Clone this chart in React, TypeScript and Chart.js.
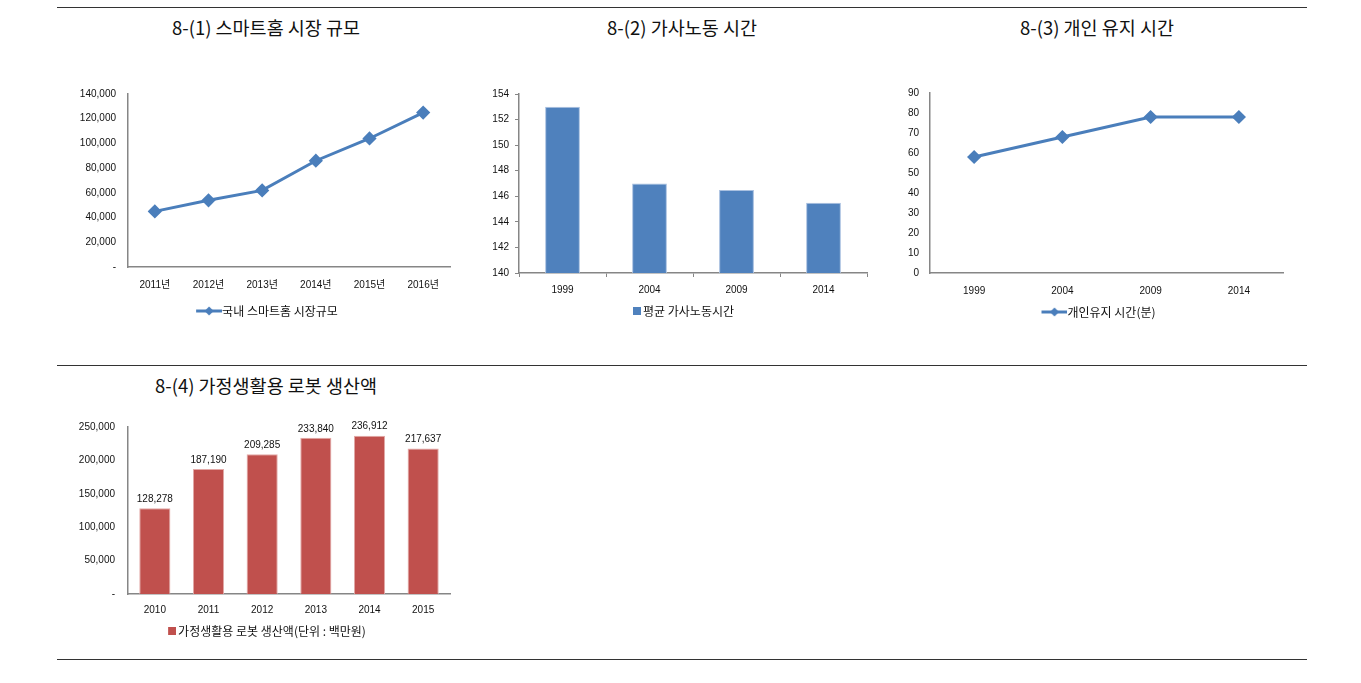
import React, { useEffect, useRef } from 'react';
import { Chart, registerables } from 'chart.js';
Chart.register(...registerables);

const smartHomeYears = ['2011년', '2012년', '2013년', '2014년', '2015년', '2016년'];
const smartHomeValues = [45000, 54000, 62000, 86000, 104000, 125000];
const houseworkYears = ['1999', '2004', '2009', '2014'];
const houseworkValues = [153, 147, 146.5, 145.5];
const personalYears = ['1999', '2004', '2009', '2014'];
const personalValues = [58, 68, 78, 78];
const robotYears = ['2010', '2011', '2012', '2013', '2014', '2015'];
const robotValues = [128278, 187190, 209285, 233840, 236912, 217637];

const BLUE_LINE = '#4A7EBB';
const BLUE_BAR = '#4F81BD';
const RED_BAR = '#C0504D';
const AXIS = '#868686';
const TICK_FONT = { family: '"Liberation Sans", "Noto Sans CJK KR", sans-serif', size: 10 };
const LEGEND_FONT = { family: '"Noto Sans CJK KR", "Liberation Sans", sans-serif', size: 12 };

// Legend icon: line with a diamond; drawn so the line runs up to the text.
function lineIcon(color: string) {
  const c = document.createElement('canvas');
  c.width = 32;
  c.height = 10;
  const ctx = c.getContext('2d')!;
  ctx.strokeStyle = color;
  ctx.lineWidth = 3;
  ctx.beginPath();
  ctx.moveTo(6, 5);
  ctx.lineTo(32, 5);
  ctx.stroke();
  ctx.fillStyle = color;
  ctx.beginPath();
  ctx.moveTo(19, 0.5);
  ctx.lineTo(23.5, 5);
  ctx.lineTo(19, 9.5);
  ctx.lineTo(14.5, 5);
  ctx.closePath();
  ctx.fill();
  return c;
}

// Legend icon: small square placed close to the text.
function boxIcon(color: string) {
  const c = document.createElement('canvas');
  c.width = 16;
  c.height = 8;
  const ctx = c.getContext('2d')!;
  ctx.fillStyle = color;
  ctx.fillRect(8, 0, 8, 8);
  return c;
}

const dashZero = (v: any) => (Number(v) === 0 ? '-' : Number(v).toLocaleString('en-US'));

const barLabelPlugin = {
  id: 'barLabels',
  afterDatasetsDraw(chart: any) {
    const ctx = chart.ctx;
    const meta = chart.getDatasetMeta(0);
    const data = chart.data.datasets[0].data;
    ctx.save();
    ctx.font = '10px "Liberation Sans", sans-serif';
    ctx.fillStyle = '#111';
    ctx.textAlign = 'center';
    ctx.textBaseline = 'bottom';
    meta.data.forEach((el: any, i: number) => {
      ctx.fillText(Number(data[i]).toLocaleString('en-US'), el.x, el.y - 4);
    });
    ctx.restore();
  },
};

// Moves the legend sideways so it is centred under the plot like the reference.
const legendShift = (dx: number) => ({
  id: 'legendShift',
  afterLayout(chart: any) {
    if (chart.legend) {
      chart.legend.left += dx;
      chart.legend.right += dx;
    }
  },
});

const fixH = (h: number) => (s: any) => { s.height = h; };
const fixW = (w: number) => (s: any) => { s.width = w; };

const lineLegend = (color: string) => ({
  position: 'bottom',
  labels: { font: LEGEND_FONT, color: '#111', usePointStyle: true, pointStyle: lineIcon(color), pointStyleWidth: 20, padding: 8 },
});
const boxLegend = (color: string) => ({
  position: 'bottom',
  labels: { font: LEGEND_FONT, color: '#111', usePointStyle: true, pointStyle: boxIcon(color), pointStyleWidth: 8, padding: 8 },
});

function makeConfig(kind: string): any {
  if (kind === 'c1') {
    return {
      type: 'line',
      data: {
        labels: smartHomeYears,
        datasets: [{
          label: '국내 스마트홈 시장규모',
          data: smartHomeValues,
          borderColor: BLUE_LINE,
          backgroundColor: BLUE_LINE,
          borderWidth: 3,
          pointStyle: 'rectRot',
          pointRadius: 5,
          pointBackgroundColor: BLUE_LINE,
          pointBorderColor: BLUE_LINE,
        }],
      },
      plugins: [legendShift(12)],
      options: {
        animation: false,
        responsive: true,
        maintainAspectRatio: false,
        layout: { padding: { top: 14, right: 10, bottom: 4, left: 0 } },
        plugins: { tooltip: { enabled: false }, legend: lineLegend(BLUE_LINE) },
        scales: {
          x: {
            offset: true,
            afterFit: fixH(30),
            grid: { display: false },
            border: { display: true, color: AXIS, width: 1.5 },
            ticks: { font: TICK_FONT, color: '#111', padding: 4 },
          },
          y: {
            min: 0, max: 140000,
            afterFit: fixW(68),
            grid: { display: false },
            border: { display: true, color: AXIS, width: 1.5 },
            ticks: { font: TICK_FONT, color: '#111', stepSize: 20000, padding: 4, callback: dashZero },
          },
        },
      },
    };
  }
  if (kind === 'c2') {
    return {
      type: 'bar',
      data: {
        labels: houseworkYears,
        datasets: [{
          label: '평균 가사노동시간',
          data: houseworkValues,
          backgroundColor: BLUE_BAR,
          borderColor: '#a9c0e0',
          borderWidth: { top: 1, left: 1, right: 1, bottom: 0 },
          categoryPercentage: 1,
          barPercentage: 0.4,
        }],
      },
      plugins: [legendShift(8)],
      options: {
        animation: false,
        responsive: true,
        maintainAspectRatio: false,
        layout: { padding: { top: 14, right: 13, bottom: 4, left: 0 } },
        plugins: { tooltip: { enabled: false }, legend: boxLegend(BLUE_BAR) },
        scales: {
          x: {
            afterFit: fixH(24),
            grid: { drawOnChartArea: false, drawTicks: true, tickLength: 4, color: AXIS },
            border: { display: true, color: AXIS, width: 1.5 },
            ticks: { font: TICK_FONT, color: '#111', padding: 7 },
          },
          y: {
            min: 140, max: 154,
            afterFit: fixW(39),
            grid: { drawOnChartArea: false, drawTicks: true, tickLength: 4, color: AXIS },
            border: { display: true, color: AXIS, width: 1.5 },
            ticks: { font: TICK_FONT, color: '#111', stepSize: 2, padding: 6 },
          },
        },
      },
    };
  }
  if (kind === 'c3') {
    return {
      type: 'line',
      data: {
        labels: personalYears,
        datasets: [{
          label: '개인유지 시간(분)',
          data: personalValues,
          borderColor: BLUE_LINE,
          backgroundColor: BLUE_LINE,
          borderWidth: 3,
          pointStyle: 'rectRot',
          pointRadius: 5,
          pointBackgroundColor: BLUE_LINE,
          pointBorderColor: BLUE_LINE,
        }],
      },
      plugins: [legendShift(12)],
      options: {
        animation: false,
        responsive: true,
        maintainAspectRatio: false,
        layout: { padding: { top: 13, right: 27, bottom: 4, left: 0 } },
        plugins: { tooltip: { enabled: false }, legend: lineLegend(BLUE_LINE) },
        scales: {
          x: {
            offset: true,
            afterFit: fixH(25),
            grid: { display: false },
            border: { display: true, color: AXIS, width: 1.5 },
            ticks: { font: TICK_FONT, color: '#111', padding: 4 },
          },
          y: {
            min: 0, max: 90,
            afterFit: fixW(40),
            grid: { display: false },
            border: { display: true, color: AXIS, width: 1.5 },
            ticks: { font: TICK_FONT, color: '#111', stepSize: 10, padding: 3 },
          },
        },
      },
    };
  }
  return {
    type: 'bar',
    data: {
      labels: robotYears,
      datasets: [{
        label: '가정생활용 로봇 생산액(단위 : 백만원)',
        data: robotValues,
        backgroundColor: RED_BAR,
        borderColor: '#e3a9a7',
        borderWidth: { top: 1, left: 1, right: 1, bottom: 0 },
        categoryPercentage: 1,
        barPercentage: 0.58,
      }],
    },
    plugins: [barLabelPlugin, legendShift(10)],
    options: {
      animation: false,
      responsive: true,
      maintainAspectRatio: false,
      layout: { padding: { top: 17, right: 10, bottom: 4, left: 0 } },
      plugins: { tooltip: { enabled: false }, legend: boxLegend(RED_BAR) },
      scales: {
        x: {
          afterFit: fixH(23),
          grid: { display: false },
          border: { display: true, color: AXIS, width: 1.5 },
          ticks: { font: TICK_FONT, color: '#111', padding: 2 },
        },
        y: {
          min: 0, max: 250000,
          afterFit: fixW(68),
          grid: { display: false },
          border: { display: true, color: AXIS, width: 1.5 },
          ticks: { font: TICK_FONT, color: '#111', stepSize: 50000, padding: 5, callback: dashZero },
        },
      },
    },
  };
}

function ChartBox({ kind, left, top, width, height }: { kind: string; left: number; top: number; width: number; height: number }) {
  const ref = useRef<HTMLCanvasElement>(null);
  useEffect(() => {
    if (!ref.current) return;
    const chart = new Chart(ref.current, makeConfig(kind));
    return () => chart.destroy();
  }, [kind]);
  return (
    <div style={{ position: 'absolute', left, top, width, height }}>
      <canvas ref={ref} />
    </div>
  );
}

const titleStyle = (cx: number, top: number): React.CSSProperties => ({
  position: 'absolute',
  left: cx - 200,
  width: 400,
  top,
  textAlign: 'center',
  fontFamily: '"Noto Sans CJK KR", sans-serif',
  fontSize: 18.5,
  color: '#111',
  lineHeight: '20px',
  whiteSpace: 'nowrap',
});

const ruleStyle = (top: number): React.CSSProperties => ({
  position: 'absolute',
  left: 57,
  width: 1250,
  top,
  height: 1,
  background: '#333',
});

export default function App() {
  return (
    <div style={{ position: 'absolute', left: 0, top: 0, width: 1361, height: 683, background: '#fff', overflow: 'hidden' }}>
      <div style={ruleStyle(7)} />
      <div style={ruleStyle(365)} />
      <div style={ruleStyle(659)} />
      <div style={titleStyle(266, 17)}>8-(1) 스마트홈 시장 규모</div>
      <div style={titleStyle(682, 17)}>8-(2) 가사노동 시간</div>
      <div style={titleStyle(1097, 17)}>8-(3) 개인 유지 시간</div>
      <div style={titleStyle(266, 375)}>8-(4) 가정생활용 로봇 생산액</div>
      <ChartBox kind="c1" left={60} top={80} width={400} height={251} />
      <ChartBox kind="c2" left={480} top={80} width={400} height={251} />
      <ChartBox kind="c3" left={890} top={80} width={420} height={252} />
      <ChartBox kind="c4" left={60} top={410} width={400} height={241} />
    </div>
  );
}
